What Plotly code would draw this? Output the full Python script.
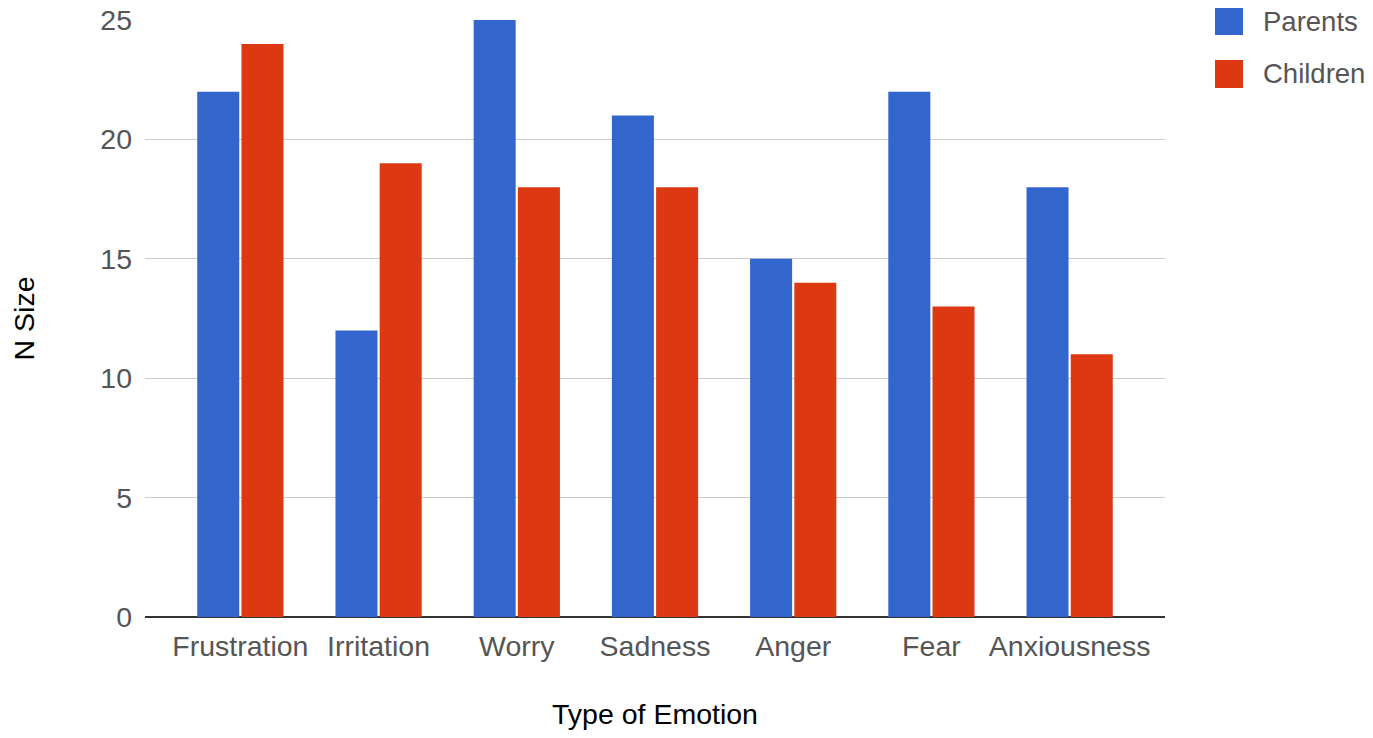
import plotly.graph_objects as go

categories = ["Frustration", "Irritation", "Worry", "Sadness", "Anger", "Fear", "Anxiousness"]
parents = [22, 12, 25, 21, 15, 22, 18]
children = [24, 19, 18, 18, 14, 13, 11]
series_names = ["Parents", "Children"]
colors = ["#3366CC", "#DC3912"]
y_ticks = [0, 5, 10, 15, 20, 25]

FONT = "Liberation Sans, Arial, sans-serif"
FS = 28.5

# page body has an 8px margin; compensate so the plot lands where the reference has it
L, T, PW, PH = 137, 12, 1020, 597
W, H = 1365, 722

fig = go.Figure()
for name, vals, col in zip(series_names, [parents, children], colors):
    fig.add_trace(go.Bar(x=categories, y=vals, name=name, marker_color=col,
                         marker_line_width=0, showlegend=False))

# custom legend with large square swatches
for i, (name, col) in enumerate(zip(series_names, colors)):
    yc = 21 + i * 53  # reference pixel centre
    fig.add_shape(type="rect", xref="paper", yref="paper",
                  x0=(1215 - 145) / PW, x1=(1243 - 145) / PW,
                  y0=(617 - (yc + 14)) / PH, y1=(617 - (yc - 14)) / PH,
                  fillcolor=col, line_width=0, layer="above")
    fig.add_annotation(xref="paper", yref="paper", x=(1261 - 145) / PW,
                       y=(617 - yc) / PH, text=name, showarrow=False,
                       xanchor="left", yanchor="middle",
                       font=dict(family=FONT, size=27.5, color="#555555"))

fig.update_layout(
    width=W, height=H,
    margin=dict(l=L, r=W - L - PW, t=T, b=H - T - PH, autoexpand=False),
    paper_bgcolor="white", plot_bgcolor="white",
    barmode="group", bargap=0.36, bargroupgap=0.05,
    font=dict(family=FONT, size=FS, color="#555555"),
)
fig.update_xaxes(
    range=[-0.69, 6.69], showgrid=False, showline=False, ticks="",
    ticklabelstandoff=9,
    tickfont=dict(family=FONT, size=FS, color="#555555"),
    title=dict(text="Type of Emotion", font=dict(family=FONT, size=FS, color="#000000"), standoff=46),
)
fig.update_yaxes(
    range=[0, 25], tickvals=y_ticks, showgrid=True, gridcolor="#CCCCCC", gridwidth=1,
    zeroline=True, zerolinecolor="#333333", zerolinewidth=2, showline=False, ticks="",
    ticklabelstandoff=12, ticklabeloverflow="allow",
    tickfont=dict(family=FONT, size=FS, color="#555555"),
    title=dict(text="N Size", font=dict(family=FONT, size=FS, color="#000000"), standoff=62),
)

fig.write_html("out.html")
